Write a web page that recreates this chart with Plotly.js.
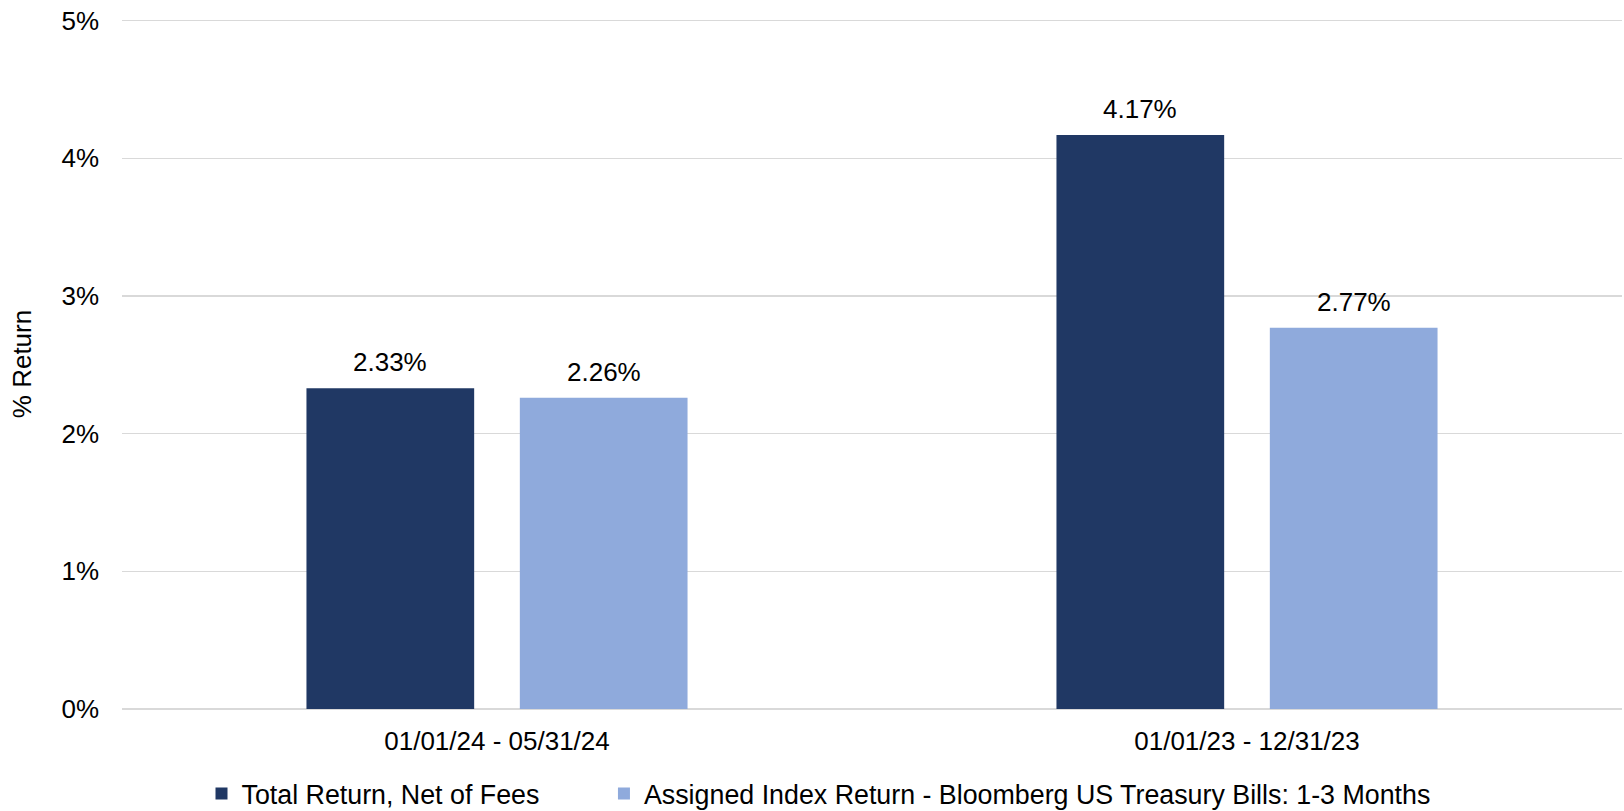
<!DOCTYPE html>
<html>
<head>
<meta charset="utf-8">
<script src="https://cdn.plot.ly/plotly-3.0.1.min.js"></script>
<style>html,body{margin:0;padding:0;background:#fff;}#chart{width:1624px;height:811px;}</style>
</head>
<body>
<div id="chart"></div>
<script>
const categories = ["01/01/24 - 05/31/24", "01/01/23 - 12/31/23"];
const seriesNames = ["Total Return, Net of Fees", "Assigned Index Return - Bloomberg US Treasury Bills: 1-3 Months"];
const totalReturn = [2.33, 4.17];
const indexReturn = [2.26, 2.77];
const yTickValues = [0, 1, 2, 3, 4, 5];
const yTickLabels = ["0%", "1%", "2%", "3%", "4%", "5%"];

const FONT = "Liberation Sans, Arial, sans-serif";
const colors = ["#203864", "#8FAADC"];
const BARGAP = 0.431, BARGROUPGAP = 0.214;
const seriesList = [totalReturn, indexReturn];

const traces = seriesList.map((vals, i) => ({
  type: "bar",
  name: seriesNames[i],
  legend: i === 0 ? "legend" : "legend2",
  x: categories,
  y: vals,
  marker: {color: colors[i], line: {width: 0}},
  hoverinfo: "x+y"
}));

// data labels above bars, positioned via the category axis (index + group offset)
const slot = (1 - BARGAP) / seriesList.length;
const annotations = [];
seriesList.forEach((vals, i) => {
  vals.forEach((v, j) => {
    annotations.push({
      x: j - (1 - BARGAP) / 2 + slot * (i + 0.5),
      y: v, xref: "x", yref: "y",
      text: v.toFixed(2) + "%",
      showarrow: false, xanchor: "center", yanchor: "bottom", yshift: 9,
      font: {family: FONT, size: 26, color: "#000"}
    });
  });
});

const legendBase = {
  orientation: "h",
  xanchor: "left",
  y: -0.1227, yanchor: "middle",
  font: {family: FONT, size: 26.8, color: "#000"},
  bgcolor: "rgba(0,0,0,0)"
};

const layout = {
  width: 1624, height: 811,
  margin: {l: 122, r: 2, t: 19.4, b: 102, pad: 0, autoexpand: false},
  paper_bgcolor: "#fff", plot_bgcolor: "#fff",
  font: {family: FONT, size: 26, color: "#000"},
  barmode: "group",
  bargap: BARGAP,
  bargroupgap: BARGROUPGAP,
  xaxis: {
    type: "category",
    showgrid: false, zeroline: false, showline: false,
    ticks: "", ticklabelstandoff: 14,
    tickfont: {family: FONT, size: 26, color: "#000"}
  },
  yaxis: {
    range: [0, 5.012], autorange: false,
    tickvals: yTickValues, ticktext: yTickLabels,
    showgrid: true, gridcolor: "#D9D9D9", gridwidth: 1.5,
    zeroline: true, zerolinecolor: "#D9D9D9", zerolinewidth: 1.5,
    showline: false, ticks: "", ticklabelstandoff: 22,
    tickfont: {family: FONT, size: 26, color: "#000"},
    title: {text: "% Return", font: {family: FONT, size: 26, color: "#000"}, standoff: 22}
  },
  legend: Object.assign({}, legendBase, {x: 0.053}),
  legend2: Object.assign({}, legendBase, {x: 0.3213}),
  annotations: annotations,
  showlegend: true
};

Plotly.newPlot("chart", traces, layout, {displayModeBar: false, staticPlot: true});
</script>
</body>
</html>
